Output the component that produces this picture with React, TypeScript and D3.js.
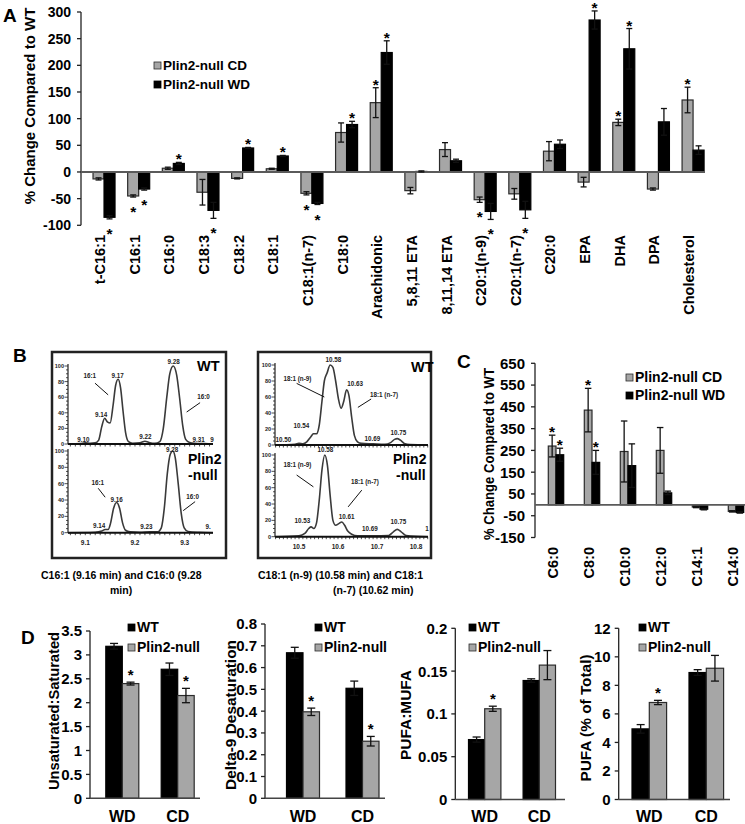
import React from "react";
import * as d3 from "d3";

const FONT = "'Liberation Sans', Arial, Helvetica, sans-serif";
const GRAY = "#a6a6a6";
const OUTLINE = "#2b2b2b";

// ---------- Panel A data ----------
const aCategories = ["t-C16:1", "C16:1", "C16:0", "C18:3", "C18:2", "C18:1", "C18:1(n-7)", "C18:0", "Arachidonic", "5,8,11 ETA", "8,11,14 ETA", "C20:1(n-9)", "C20:1(n-7)", "C20:0", "EPA", "DHA", "DPA", "Cholesterol"];
const aCD = [-13, -45, 7, -38, -12, 6, -40, 74, 130, -35, 42, -52, -41, 39, -19, 93, -32, 135];
const aCDErr = [2, 2, 2, 24, 1, 1, 3, 18, 28, 6, 13, 5, 10, 18, 9, 6, 2, 24];
const aWD = [-85, -32, 16, -72, 45, 30, -59, 89, 224, 1, 21, -74, -71, 52, 285, 231, 94, 41];
const aWDErr = [3, 2, 2, 15, 1, 1, 2, 6, 22, 1, 3, 15, 16, 8, 17, 38, 25, 8];
const aCDSig = [0, 1, 0, 0, 0, 0, 1, 0, 1, 0, 0, 1, 0, 0, 0, 1, 0, 1];
const aWDSig = [1, 1, 1, 1, 1, 1, 1, 1, 1, 0, 0, 1, 1, 0, 1, 1, 0, 0];
const aTicks = [-100, -50, 0, 50, 100, 150, 200, 250, 300];

// ---------- Panel C data ----------
const cCategories = ["C6:0", "C8:0", "C10:0", "C12:0", "C14:1", "C14:0"];
const cCD = [270, 435, 245, 250, -10, -30];
const cCDErr = [50, 100, 140, 105, 3, 3];
const cWD = [230, 195, 180, 55, -20, -35];
const cWDErr = [30, 55, 100, 8, 3, 3];
const cCDSig = [1, 1, 0, 0, 0, 0];
const cWDSig = [1, 1, 0, 0, 0, 0];
const cTicks = [-150, -50, 50, 150, 250, 350, 450, 550, 650];

// ---------- Panel D data ----------
const dGroups = ["WD", "CD"];
const d1WT = [3.18, 2.7];
const d1WTErr = [0.06, 0.13];
const d1Null = [2.4, 2.15];
const d1NullErr = [0.03, 0.15];
const d1Sig = [1, 1];
const d1Ticks = [0, 0.5, 1, 1.5, 2, 2.5, 3, 3.5];

const d2WT = [0.668, 0.505];
const d2WTErr = [0.025, 0.033];
const d2Null = [0.397, 0.262];
const d2NullErr = [0.017, 0.022];
const d2Sig = [1, 1];
const d2Ticks = [0, 0.1, 0.2, 0.3, 0.4, 0.5, 0.6, 0.7, 0.8];

const d3WT = [0.07, 0.139];
const d3WTErr = [0.003, 0.002];
const d3Null = [0.106, 0.157];
const d3NullErr = [0.003, 0.017];
const d3Sig = [1, 0];
const d3Ticks = [0, 0.05, 0.1, 0.15, 0.2];

const d4WT = [4.95, 8.9];
const d4WTErr = [0.3, 0.2];
const d4Null = [6.8, 9.2];
const d4NullErr = [0.15, 0.9];
const d4Sig = [1, 0];
const d4Ticks = [0, 2, 4, 6, 8, 10, 12];

// ---------- Panel B chromatogram traces (time, relative abundance) ----------
type Pt = [number, number];
const chromLeftWT: Pt[] = [
  [9.0652, 0], [9.09, 0.5], [9.1, 1.5], [9.11, 1], [9.12, 1.5], [9.127, 5], [9.133, 22], [9.139, 33], [9.145, 28], [9.15, 27],
  [9.156, 50], [9.161, 75], [9.166, 83], [9.171, 72], [9.176, 42], [9.181, 15], [9.187, 3], [9.195, 1], [9.21, 1.5], [9.22, 3.5],
  [9.23, 1.5], [9.24, 0.8], [9.25, 3], [9.257, 20], [9.264, 60], [9.27, 90], [9.277, 100], [9.284, 88], [9.29, 58], [9.296, 24],
  [9.302, 6], [9.31, 2], [9.32, 1], [9.34, 0.5], [9.357, 0],
];
const chromLeftNull: Pt[] = [
  [9.0652, 0], [9.12, 0.5], [9.133, 2], [9.14, 4], [9.146, 4], [9.151, 12], [9.157, 30], [9.163, 37], [9.169, 30], [9.175, 12],
  [9.181, 3], [9.19, 1], [9.21, 0.5], [9.23, 1.2], [9.245, 1], [9.253, 6], [9.259, 30], [9.265, 72], [9.271, 96], [9.276, 100],
  [9.281, 92], [9.287, 60], [9.293, 24], [9.299, 6], [9.307, 1.5], [9.33, 0.5], [9.357, 0],
];
const chromRightWT: Pt[] = [
  [10.4385, 0], [10.49, 1], [10.5, 2], [10.51, 1.5], [10.52, 4], [10.53, 10], [10.537, 14], [10.545, 14], [10.552, 25], [10.559, 55],
  [10.565, 80], [10.572, 90], [10.58, 100], [10.587, 97], [10.594, 80], [10.601, 58], [10.608, 46], [10.615, 55], [10.622, 69],
  [10.628, 62], [10.635, 35], [10.642, 12], [10.65, 4], [10.66, 2], [10.69, 1.5], [10.72, 1], [10.735, 3], [10.745, 7], [10.752, 8],
  [10.76, 6], [10.77, 2], [10.785, 0.5], [10.8308, 0],
];
const chromRightNull: Pt[] = [
  [10.4385, 0], [10.5, 1], [10.515, 4], [10.525, 10], [10.531, 12], [10.538, 10], [10.545, 17], [10.552, 45], [10.559, 82],
  [10.566, 100], [10.573, 87], [10.58, 50], [10.587, 20], [10.594, 14], [10.602, 16], [10.61, 18], [10.617, 14], [10.625, 7],
  [10.635, 3], [10.65, 1], [10.69, 1], [10.73, 1.5], [10.742, 6], [10.752, 9], [10.762, 6], [10.775, 1.5], [10.8308, 0],
];

type Lab = { text: string; t: number; v: number };
const leftWTLabels: Lab[] = [
  { text: "9.10", t: 9.096, v: 5 }, { text: "9.14", t: 9.132, v: 38 }, { text: "9.17", t: 9.165, v: 88 },
  { text: "9.22", t: 9.221, v: 9 }, { text: "9.28", t: 9.278, v: 106 }, { text: "9.31", t: 9.328, v: 5 },
  { text: "9", t: 9.355, v: 5 }, { text: "16:1", t: 9.109, v: 88 }, { text: "16:0", t: 9.338, v: 60 },
];
const leftWTLines: Pt[][] = [[[9.1195, 78], [9.146, 63]], [[9.331, 53], [9.304, 41]]];
const leftNullLabels: Lab[] = [
  { text: "9.28", t: 9.275, v: 101 }, { text: "16:1", t: 9.125, v: 61 }, { text: "9.16", t: 9.163, v: 40 },
  { text: "16:0", t: 9.316, v: 44 }, { text: "9.14", t: 9.128, v: 8.5 }, { text: "9.23", t: 9.223, v: 7 },
  { text: "9.", t: 9.347, v: 7 },
];
const leftNullLines: Pt[][] = [[[9.126, 54.4], [9.14, 43.4]], [[9.321, 38], [9.297, 27]]];
const rightWTLabels: Lab[] = [
  { text: "10.50", t: 10.46, v: 7 }, { text: "10.54", t: 10.506, v: 24 }, { text: "10.58", t: 10.588, v: 107 },
  { text: "18:1 (n-9)", t: 10.496, v: 82.5 }, { text: "10.63", t: 10.644, v: 77 }, { text: "18:1 (n-7)", t: 10.718, v: 62.5 },
  { text: "10.69", t: 10.688, v: 8 }, { text: "10.75", t: 10.755, v: 15 },
];
const rightWTLines: Pt[][] = [[[10.494, 77], [10.565, 60]], [[10.685, 57.5], [10.651, 47]]];
const rightNullLabels: Lab[] = [
  { text: "10.58", t: 10.568, v: 106 }, { text: "18:1 (n-9)", t: 10.496, v: 88 }, { text: "18:1 (n-7)", t: 10.669, v: 67 },
  { text: "10.53", t: 10.509, v: 20 }, { text: "10.61", t: 10.622, v: 24 }, { text: "10.69", t: 10.682, v: 9.5 },
  { text: "10.75", t: 10.755, v: 18 }, { text: "1", t: 10.828, v: 10 },
];
const rightNullLines: Pt[][] = [[[10.494, 75.5], [10.537, 61]], [[10.661, 57], [10.626, 36.5]]];
const leftXTicks = [9.1, 9.2, 9.3];
const rightXTicks = [10.5, 10.6, 10.7, 10.8];
const chromYTicks = [0, 20, 40, 60, 80, 100];

const fmt = (v: number) => String(+v.toFixed(3));

function ErrBar({ x, ya, yb, cap }: { x: number; ya: number; yb: number; cap: number }) {
  return (
    <g stroke="#111" strokeWidth={1.3}>
      <line x1={x} x2={x} y1={ya} y2={yb} />
      <line x1={x - cap / 2} x2={x + cap / 2} y1={ya} y2={ya} />
      <line x1={x - cap / 2} x2={x + cap / 2} y1={yb} y2={yb} />
    </g>
  );
}

function Legend({ x, y1, y2, labels, first, size }: { x: number; y1: number; y2: number; labels: string[]; first: "gray" | "black"; size: number }) {
  const sq = 7;
  const fills = first === "gray" ? [GRAY, "#000"] : ["#000", GRAY];
  return (
    <g fontWeight="bold" fontSize={size}>
      {[y1, y2].map((yy, i) => (
        <g key={i}>
          <rect x={x} y={yy - sq - 1} width={sq} height={sq} fill={fills[i]} stroke={fills[i] === GRAY ? OUTLINE : "#000"} strokeWidth={0.8} />
          <text x={x + sq + 2} y={yy}>{labels[i]}</text>
        </g>
      ))}
    </g>
  );
}

// ---------- Grouped bar panel (A & C) ----------
function GroupedPanel(props: {
  cats: string[]; cd: number[]; cdErr: number[]; wd: number[]; wdErr: number[]; cdSig: number[]; wdSig: number[];
  ticks: number[]; domain: [number, number]; yRange: [number, number]; axisX: number; bandRange: [number, number];
  pad: number; zeroEnd: number; labelTop: number; labelDx: number; cap: number; tickSize: number;
}) {
  const y = d3.scaleLinear().domain(props.domain).range(props.yRange);
  const x0 = d3.scaleBand().domain(props.cats).range(props.bandRange).paddingInner(props.pad).paddingOuter(props.pad / 2);
  const x1 = d3.scaleBand().domain(["CD", "WD"]).range([0, x0.bandwidth()]);
  const bw = x1.bandwidth();
  const y0 = y(0);
  const series = [
    { key: "CD", vals: props.cd, errs: props.cdErr, sig: props.cdSig, fill: GRAY, stroke: OUTLINE },
    { key: "WD", vals: props.wd, errs: props.wdErr, sig: props.wdSig, fill: "#000", stroke: "#000" },
  ];
  return (
    <g>
      <line x1={props.axisX} x2={props.axisX} y1={props.yRange[1]} y2={props.yRange[0]} stroke="#222" strokeWidth={1.3} />
      {props.ticks.map((t) => (
        <g key={t}>
          <line x1={props.axisX - 4} x2={props.axisX} y1={y(t)} y2={y(t)} stroke="#222" strokeWidth={1.3} />
          <text x={props.axisX - 10} y={y(t)} dy="0.36em" textAnchor="end" fontWeight="bold" fontSize={props.tickSize}>{fmt(t)}</text>
        </g>
      ))}
      {series.map((s) =>
        props.cats.map((c, i) => {
          const v = s.vals[i];
          const xx = (x0(c) as number) + (x1(s.key) as number);
          const yv = y(v);
          return (
            <rect key={s.key + c} x={xx} y={Math.min(yv, y0)} width={bw} height={Math.abs(yv - y0)} fill={s.fill} stroke={s.stroke} strokeWidth={1.2} />
          );
        })
      )}
      <line x1={props.axisX} x2={props.zeroEnd} y1={y0} y2={y0} stroke="#5a5a5a" strokeWidth={1.8} />
      {series.map((s) =>
        props.cats.map((c, i) => {
          const v = s.vals[i];
          const e = s.errs[i];
          const cx = (x0(c) as number) + (x1(s.key) as number) + bw / 2;
          const ya = y(v + e);
          const yb = y(v - e);
          const star = s.sig[i] ? (
            v >= 0 ? (
              <text x={cx} y={ya + 2} textAnchor="middle" fontWeight="bold" fontSize={15.5}>*</text>
            ) : (
              <text x={cx} y={yb + 20} textAnchor="middle" fontWeight="bold" fontSize={15.5}>*</text>
            )
          ) : null;
          return (
            <g key={"e" + s.key + c}>
              <ErrBar x={cx} ya={ya} yb={yb} cap={props.cap} />
              {star}
            </g>
          );
        })
      )}
      {props.cats.map((c) => {
        const cx = (x0(c) as number) + x0.bandwidth() / 2 + props.labelDx;
        return (
          <text key={"l" + c} transform={`translate(${cx},${props.labelTop}) rotate(-90)`} textAnchor="end" fontWeight="bold" fontSize={14.5}>
            {c}
          </text>
        );
      })}
    </g>
  );
}

function PanelA() {
  return (
    <g>
      <text x={3} y={21.5} fontWeight="bold" fontSize={19}>A</text>
      <text transform="translate(35,106) rotate(-90)" textAnchor="middle" fontWeight="bold" fontSize={15}>% Change Compared to WT</text>
      <GroupedPanel cats={aCategories} cd={aCD} cdErr={aCDErr} wd={aWD} wdErr={aWDErr} cdSig={aCDSig} wdSig={aWDSig}
        ticks={aTicks} domain={[-100, 300]} yRange={[225.3, 12]} axisX={81} bandRange={[86.7, 710.4]} pad={0.365}
        zeroEnd={705} labelTop={235} labelDx={1} cap={6} tickSize={14} />
      <Legend x={154} y1={70} y2={89} labels={["Plin2-null CD", "Plin2-null WD"]} first="gray" size={13.5} />
    </g>
  );
}

function PanelC() {
  return (
    <g>
      <text x={457} y={368} fontWeight="bold" fontSize={19}>C</text>
      <text transform="translate(494,454) rotate(-90)" textAnchor="middle" fontWeight="bold" fontSize={15} textLength={172} lengthAdjust="spacingAndGlyphs">% Change Compared to WT</text>
      <GroupedPanel cats={cCategories} cd={cCD} cdErr={cCDErr} wd={cWD} wdErr={cWDErr} cdSig={cCDSig} wdSig={cWDSig}
        ticks={cTicks} domain={[-150, 650]} yRange={[537.5, 363.3]} axisX={535} bandRange={[538, 754]} pad={0.572}
        zeroEnd={745} labelTop={547} labelDx={2} cap={6.5} tickSize={15} />
      <Legend x={626} y1={382} y2={400} labels={["Plin2-null CD", "Plin2-null WD"]} first="gray" size={14} />
    </g>
  );
}

// ---------- Panel D ----------
function DSub(p: {
  wt: number[]; wtErr: number[]; nul: number[]; nulErr: number[]; sig: number[]; ticks: number[];
  domain: [number, number]; axisX: number; yTop: number; yBottom: number; bandRange: [number, number]; barW: number;
  xEnd: number; title: string; titleX: number; titleY: number; titleLen: number; legendX: number;
}) {
  const y = d3.scaleLinear().domain(p.domain).range([p.yBottom, p.yTop]);
  const step = (p.bandRange[1] - p.bandRange[0]) / dGroups.length;
  const pad = 1 - (2 * p.barW) / step;
  const xg = d3.scaleBand().domain(dGroups).range(p.bandRange).paddingInner(pad).paddingOuter(pad / 2);
  const xs = d3.scaleBand().domain(["WT", "Plin2-null"]).range([0, xg.bandwidth()]);
  const bw = xs.bandwidth();
  const y0 = y(0);
  const series = [
    { key: "WT", vals: p.wt, errs: p.wtErr, sig: [0, 0], fill: "#000", stroke: "#000" },
    { key: "Plin2-null", vals: p.nul, errs: p.nulErr, sig: p.sig, fill: GRAY, stroke: OUTLINE },
  ];
  return (
    <g>
      <text transform={`translate(${p.titleX},${p.titleY}) rotate(-90)`} textAnchor="middle" fontWeight="bold" fontSize={14.5} textLength={p.titleLen} lengthAdjust="spacingAndGlyphs">{p.title}</text>
      <line x1={p.axisX} x2={p.axisX} y1={p.yTop} y2={p.yBottom} stroke="#222" strokeWidth={1.3} />
      {p.ticks.map((t) => (
        <g key={t}>
          <line x1={p.axisX - 4} x2={p.axisX} y1={y(t)} y2={y(t)} stroke="#222" strokeWidth={1.3} />
          <text x={p.axisX - 8} y={y(t)} dy="0.36em" textAnchor="end" fontWeight="bold" fontSize={15}>{fmt(t)}</text>
        </g>
      ))}
      {series.map((s) =>
        dGroups.map((g, i) => {
          const xx = (xg(g) as number) + (xs(s.key) as number);
          const yv = y(s.vals[i]);
          return <rect key={s.key + g} x={xx} y={yv} width={bw} height={y0 - yv} fill={s.fill} stroke={s.stroke} strokeWidth={1.2} />;
        })
      )}
      <line x1={p.axisX} x2={p.xEnd} y1={y0} y2={y0} stroke="#444" strokeWidth={1.5} />
      {series.map((s) =>
        dGroups.map((g, i) => {
          const cx = (xg(g) as number) + (xs(s.key) as number) + bw / 2;
          const ya = y(s.vals[i] + s.errs[i]);
          const yb = y(s.vals[i] - s.errs[i]);
          return (
            <g key={"e" + s.key + g}>
              <ErrBar x={cx} ya={ya} yb={yb} cap={8} />
              {s.sig[i] ? <text x={cx} y={ya - 2} textAnchor="middle" fontWeight="bold" fontSize={15}>*</text> : null}
            </g>
          );
        })
      )}
      {dGroups.map((g) => (
        <text key={"x" + g} x={(xg(g) as number) + xg.bandwidth() / 2} y={822} textAnchor="middle" fontWeight="bold" fontSize={16}>{g}</text>
      ))}
      <Legend x={p.legendX} y1={632} y2={652} labels={["WT", "Plin2-null"]} first="black" size={14} />
    </g>
  );
}

function PanelD() {
  return (
    <g>
      <text x={21} y={643.5} fontWeight="bold" fontSize={19}>D</text>
      <DSub wt={d1WT} wtErr={d1WTErr} nul={d1Null} nulErr={d1NullErr} sig={d1Sig} ticks={d1Ticks} domain={[0, 3.5]}
        axisX={90} yTop={631} yBottom={798.3} bandRange={[94.6, 205.4]} barW={16.5} xEnd={200}
        title="Unsaturated:Saturated" titleX={59} titleY={711} titleLen={158} legendX={128} />
      <DSub wt={d2WT} wtErr={d2WTErr} nul={d2Null} nulErr={d2NullErr} sig={d2Sig} ticks={d2Ticks} domain={[0, 0.8]}
        axisX={265} yTop={624} yBottom={798.3} bandRange={[273.25, 392.25]} barW={16.5} xEnd={385}
        title="Delta-9 Desaturation" titleX={236} titleY={715} titleLen={150} legendX={315} />
      <DSub wt={d3WT} wtErr={d3WTErr} nul={d3Null} nulErr={d3NullErr} sig={d3Sig} ticks={d3Ticks} domain={[0, 0.2]}
        axisX={455.3} yTop={628.3} yBottom={799.5} bandRange={[457.4, 566.6]} barW={16.2} xEnd={565}
        title="PUFA:MUFA" titleX={411} titleY={715} titleLen={90} legendX={469} />
      <DSub wt={d4WT} wtErr={d4WTErr} nul={d4Null} nulErr={d4NullErr} sig={d4Sig} ticks={d4Ticks} domain={[0, 12]}
        axisX={618.7} yTop={628.3} yBottom={799.5} bandRange={[620.8, 734.8]} barW={17.3} xEnd={730}
        title="PUFA (% of Total)" titleX={591} titleY={718} titleLen={127} legendX={639} />
    </g>
  );
}

// ---------- Panel B ----------
function Chrom(p: {
  trace: Pt[]; xDomain: [number, number]; xRange: [number, number]; yTop: number; yBottom: number;
  labels: Lab[]; lines: Pt[][]; xTicks: number[]; showXLabels: boolean; minorStep: number;
}) {
  const x = d3.scaleLinear().domain(p.xDomain).range(p.xRange);
  const y = d3.scaleLinear().domain([0, 100]).range([p.yBottom, p.yTop]);
  const line = d3.line<Pt>().x((d) => x(d[0])).y((d) => y(d[1])).curve(d3.curveMonotoneX);
  const minorY = d3.range(0, 101, 5);
  const minorX = d3.range(Math.ceil(p.xDomain[0] / p.minorStep) * p.minorStep, p.xDomain[1], p.minorStep);
  return (
    <g>
      <line x1={p.xRange[0]} x2={p.xRange[0]} y1={p.yTop - 2} y2={p.yBottom} stroke="#222" strokeWidth={1.2} />
      {minorY.map((t) => (
        <line key={"my" + t} x1={p.xRange[0] - (t % 20 === 0 ? 3.5 : 2)} x2={p.xRange[0]} y1={y(t)} y2={y(t)} stroke="#222" strokeWidth={0.8} />
      ))}
      {chromYTicks.map((t) => (
        <text key={"yt" + t} x={p.xRange[0] - 4} y={y(t)} dy="0.35em" textAnchor="end" fontSize={5.5} fontWeight="bold" fill="#222">{t}</text>
      ))}
      {minorX.map((t, i) => (
        <line key={"mx" + i} x1={x(t)} x2={x(t)} y1={p.yBottom} y2={p.yBottom + 2.5} stroke="#222" strokeWidth={0.8} />
      ))}
      <path d={line(p.trace) || ""} fill="none" stroke="#3a3a3a" strokeWidth={1.6} />
      <line x1={p.xRange[0]} x2={p.xRange[1]} y1={p.yBottom} y2={p.yBottom} stroke="#111" strokeWidth={2} />
      {p.showXLabels &&
        p.xTicks.map((t) => (
          <text key={"xt" + t} x={x(t)} y={p.yBottom + 12} textAnchor="middle" fontSize={6.5} fontWeight="bold" fill="#222">{fmt(t)}</text>
        ))}
      {p.labels.map((l, i) => (
        <text key={"lb" + i} x={x(l.t)} y={y(l.v)} dy="0.35em" textAnchor="middle" fontSize={6.3} fontWeight="bold" fill="#222">{l.text}</text>
      ))}
      {p.lines.map((ln, i) => (
        <line key={"ln" + i} x1={x(ln[0][0])} y1={y(ln[0][1])} x2={x(ln[1][0])} y2={y(ln[1][1])} stroke="#111" strokeWidth={1} />
      ))}
    </g>
  );
}

function PanelB() {
  const lx: [number, number] = [68, 213];
  const ld: [number, number] = [9.0652, 9.357];
  const rx: [number, number] = [275, 428];
  const rd: [number, number] = [10.4385, 10.8308];
  return (
    <g>
      <text x={13} y={362} fontWeight="bold" fontSize={19}>B</text>
      <rect x={52} y={352} width={174} height={206} fill="none" stroke="#222" strokeWidth={2.5} />
      <rect x={258} y={352} width={173} height={206} fill="none" stroke="#222" strokeWidth={2.5} />
      <Chrom trace={chromLeftWT} xDomain={ld} xRange={lx} yTop={366} yBottom={444} labels={leftWTLabels} lines={leftWTLines} xTicks={leftXTicks} showXLabels={false} minorStep={0.01} />
      <Chrom trace={chromLeftNull} xDomain={ld} xRange={lx} yTop={451} yBottom={532.7} labels={leftNullLabels} lines={leftNullLines} xTicks={leftXTicks} showXLabels={true} minorStep={0.01} />
      <Chrom trace={chromRightWT} xDomain={rd} xRange={rx} yTop={365} yBottom={445} labels={rightWTLabels} lines={rightWTLines} xTicks={rightXTicks} showXLabels={false} minorStep={0.01} />
      <Chrom trace={chromRightNull} xDomain={rd} xRange={rx} yTop={455} yBottom={536.7} labels={rightNullLabels} lines={rightNullLines} xTicks={rightXTicks} showXLabels={true} minorStep={0.01} />
      <g fontWeight="bold" fontSize={14.5}>
        <text x={197} y={371}>WT</text>
        <text x={411} y={372}>WT</text>
      </g>
      <g fontWeight="bold" fontSize={14}>
        <text x={188} y={464}>Plin2</text>
        <text x={188} y={479.5}>-null</text>
        <text x={393} y={464}>Plin2</text>
        <text x={396} y={479.5}>-null</text>
      </g>
      <g fontWeight="bold" fontSize={10.5}>
        <text x={41} y={579}>C16:1 (9.16 min) and C16:0 (9.28</text>
        <text x={110} y={594}>min)</text>
        <text x={258} y={579}>C18:1 (n-9) (10.58 min) and C18:1</text>
        <text x={333} y={594}>(n-7) (10.62 min)</text>
      </g>
    </g>
  );
}

export default function App() {
  return (
    <svg width={745} height={824} style={{ position: "absolute", left: 0, top: 0, background: "#fff" }} fontFamily={FONT}>
      <rect width={745} height={824} fill="#fff" />
      <PanelA />
      <PanelB />
      <PanelC />
      <PanelD />
    </svg>
  );
}
